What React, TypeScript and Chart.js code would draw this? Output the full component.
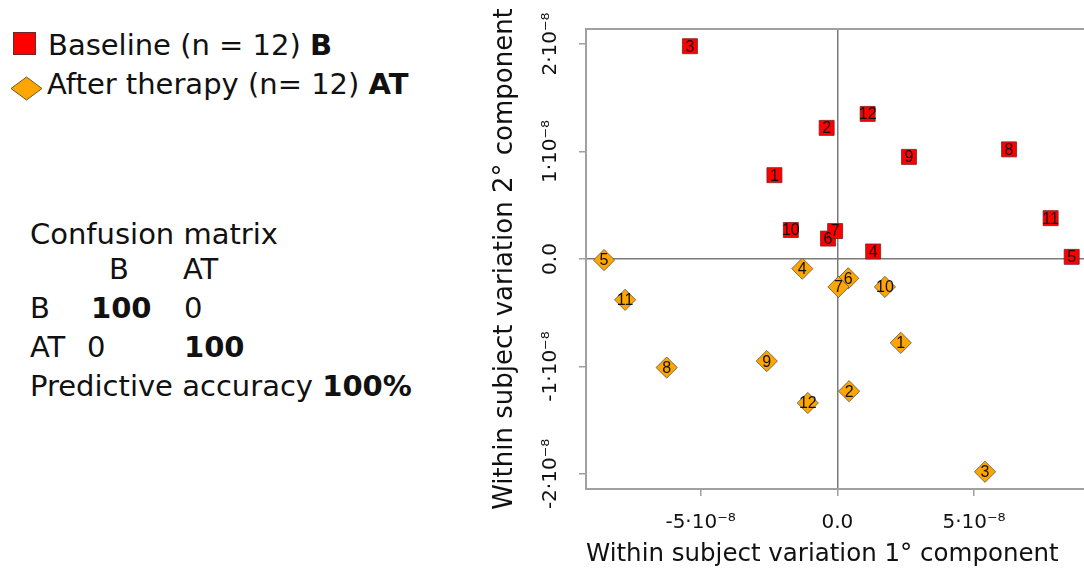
import React, { useEffect, useRef } from "react";
import { Chart, registerables } from "chart.js";

Chart.register(...registerables);

const POINT_LABELS = ["1", "2", "3", "4", "5", "6", "7", "8", "9", "10", "11", "12"];

const BASELINE_X = [-2.30e-8, -0.39e-8, -5.39e-8, 1.31e-8, 8.57e-8, -0.34e-8, -0.08e-8, 6.28e-8, 2.62e-8, -1.70e-8, 7.80e-8, 1.11e-8];
const BASELINE_Y = [0.78e-8, 1.22e-8, 1.98e-8, 0.07e-8, 0.02e-8, 0.19e-8, 0.26e-8, 1.02e-8, 0.95e-8, 0.27e-8, 0.38e-8, 1.35e-8];

const AFTER_X = [2.32e-8, 0.43e-8, 5.40e-8, -1.28e-8, -8.53e-8, 0.40e-8, 0.04e-8, -6.24e-8, -2.58e-8, 1.74e-8, -7.76e-8, -1.08e-8];
const AFTER_Y = [-0.78e-8, -1.23e-8, -1.98e-8, -0.09e-8, -0.01e-8, -0.18e-8, -0.26e-8, -1.01e-8, -0.95e-8, -0.26e-8, -0.38e-8, -1.34e-8];

const X_TICKS = [-5e-8, 0, 5e-8];
const X_TICK_LABELS = ["-5·10⁻⁸", "0.0", "5·10⁻⁸"];
const Y_TICKS = [-2e-8, -1e-8, 0, 1e-8, 2e-8];
const Y_TICK_LABELS = ["-2·10⁻⁸", "-1·10⁻⁸", "0.0", "1·10⁻⁸", "2·10⁻⁸"];

const X_MIN = -9.19e-8;
const X_MAX = 9.02e-8;
const Y_MIN = -2.14e-8;
const Y_MAX = 2.14e-8;

const X_TITLE = "Within subject variation 1° component";
const Y_TITLE = "Within subject variation 2° component";

const LEGEND_BASELINE = "Baseline (n = 12) ";
const LEGEND_BASELINE_CODE = "B";
const LEGEND_AFTER = "After therapy (n= 12) ";
const LEGEND_AFTER_CODE = "AT";

const RED = "#ff0000";
const ORANGE = "#ffa500";
const AXIS_GREY = "#a0a0a0";

const FONT = "'DejaVu Sans', Verdana, sans-serif";

const pointLabelPlugin = {
  id: "pointLabels",
  afterDatasetsDraw(chart: any) {
    const ctx = chart.ctx;
    ctx.save();
    ctx.font = "16px 'Liberation Sans', Arial, sans-serif";
    ctx.fillStyle = "#111";
    ctx.textAlign = "center";
    ctx.textBaseline = "middle";
    chart.data.datasets.forEach((_ds: any, di: number) => {
      const meta = chart.getDatasetMeta(di);
      meta.data.forEach((el: any, i: number) => {
        ctx.fillText(POINT_LABELS[i], el.x, el.y + 1);
      });
    });
    ctx.restore();
  },
};

const topBorderPlugin = {
  id: "topBorder",
  afterDraw(chart: any) {
    const { ctx, chartArea } = chart;
    ctx.save();
    ctx.strokeStyle = AXIS_GREY;
    ctx.lineWidth = 2;
    ctx.beginPath();
    ctx.moveTo(chartArea.left - 1, chartArea.top);
    ctx.lineTo(chartArea.right, chartArea.top);
    ctx.stroke();
    ctx.restore();
  },
};

function PlotChart() {
  const ref = useRef<HTMLCanvasElement | null>(null);
  useEffect(() => {
    if (!ref.current) return;
    const chart = new Chart(ref.current, {
      type: "scatter",
      data: {
        datasets: [
          {
            label: "Baseline",
            data: BASELINE_X.map((x, i) => ({ x, y: BASELINE_Y[i] })),
            pointStyle: "rect",
            pointRadius: 10.6,
            backgroundColor: RED,
            borderColor: "#7a2020",
            borderWidth: 0.8,
            clip: 12,
          },
          {
            label: "After therapy",
            data: AFTER_X.map((x, i) => ({ x, y: AFTER_Y[i] })),
            pointStyle: "rectRot",
            pointRadius: 10.6,
            backgroundColor: ORANGE,
            borderColor: "#555",
            borderWidth: 0.8,
            clip: 12,
          },
        ],
      },
      options: {
        responsive: false,
        animation: false,
        devicePixelRatio: 1,
        events: [],
        layout: { autoPadding: false, padding: { top: 29, right: 0, left: 0, bottom: 0 } },
        plugins: { legend: { display: false }, tooltip: { enabled: false } },
        scales: {
          x: {
            type: "linear",
            min: X_MIN,
            max: X_MAX,
            afterBuildTicks: (scale: any) => {
              scale.ticks = X_TICKS.map((v) => ({ value: v }));
            },
            afterFit: (scale: any) => {
              scale.height = 83;
              scale.paddingLeft = 0;
              scale.paddingRight = 0;
            },
            ticks: {
              callback: (_v: any, i: number) => X_TICK_LABELS[i],
              font: { family: FONT, size: 20 },
              color: "#111",
              padding: 15,
              maxRotation: 0,
              autoSkip: false,
            },
            grid: {
              color: (ctx: any) => (ctx.tick && ctx.tick.value === 0 ? "#7a7a7a" : "rgba(0,0,0,0)"),
              lineWidth: 1.5,
              tickColor: AXIS_GREY,
              tickLength: 7,
            },
            border: { display: true, color: AXIS_GREY, width: 2 },
            title: {
              display: true,
              text: X_TITLE,
              align: "start",
              font: { family: FONT, size: 24.5 },
              color: "#111",
              padding: { top: 0, bottom: 3 },
            },
          },
          y: {
            type: "linear",
            min: Y_MIN,
            max: Y_MAX,
            afterBuildTicks: (scale: any) => {
              scale.ticks = Y_TICKS.map((v) => ({ value: v }));
            },
            afterFit: (scale: any) => {
              scale.width = 96;
              scale.paddingTop = 0;
              scale.paddingBottom = 0;
            },
            ticks: {
              callback: (_v: any, i: number) => Y_TICK_LABELS[i],
              font: { family: FONT, size: 20 },
              color: "#111",
              padding: -7,
              minRotation: 90,
              maxRotation: 90,
              crossAlign: "center",
              autoSkip: false,
            },
            grid: {
              color: (ctx: any) => (ctx.tick && ctx.tick.value === 0 ? "#7a7a7a" : "rgba(0,0,0,0)"),
              lineWidth: 1.5,
              tickColor: AXIS_GREY,
              tickLength: 7,
            },
            border: { display: true, color: AXIS_GREY, width: 2 },
            title: {
              display: true,
              text: Y_TITLE,
              font: { family: FONT, size: 26 },
              color: "#111",
              padding: { top: 0, bottom: 0 },
            },
          },
        },
      },
      plugins: [pointLabelPlugin, topBorderPlugin],
    } as any);
    return () => chart.destroy();
  }, []);
  return (
    <canvas
      ref={ref}
      width={594}
      height={572}
      style={{ position: "absolute", left: 490, top: 0, width: 594, height: 572 }}
    />
  );
}

const textStyle = (left: number, capCenter: number, bold = false): React.CSSProperties => ({
  position: "absolute",
  left,
  top: capCenter - 17,
  fontFamily: FONT,
  fontSize: 29,
  lineHeight: "34px",
  fontWeight: bold ? "bold" : "normal",
  color: "#111",
  whiteSpace: "pre",
});

export default function App() {
  return (
    <div
      style={{
        position: "fixed",
        left: 0,
        top: 0,
        width: 1084,
        height: 572,
        background: "#fff",
        overflow: "hidden",
      }}
    >
      {/* legend */}
      <div
        style={{
          position: "absolute",
          left: 13,
          top: 32,
          width: 21,
          height: 21,
          background: RED,
          border: "1px solid #6a2a2a",
        }}
      />
      <svg style={{ position: "absolute", left: 10, top: 76 }} width={33} height={25}>
        <polygon points="1,12.5 16.5,1 32,12.5 16.5,24" fill={ORANGE} stroke="#6a5a2a" strokeWidth={1} />
      </svg>
      <div style={textStyle(48, 45)}>
        {LEGEND_BASELINE}
        <b>{LEGEND_BASELINE_CODE}</b>
      </div>
      <div style={textStyle(47, 84)}>
        {LEGEND_AFTER}
        <b>{LEGEND_AFTER_CODE}</b>
      </div>

      {/* confusion matrix */}
      <div style={textStyle(30, 234)}>Confusion matrix</div>
      <div style={textStyle(109, 269)}>B</div>
      <div style={textStyle(183, 269)}>AT</div>
      <div style={textStyle(30, 308)}>B</div>
      <div style={textStyle(91, 308, true)}>100</div>
      <div style={textStyle(184, 308)}>0</div>
      <div style={textStyle(30, 347)}>AT</div>
      <div style={textStyle(87, 347)}>0</div>
      <div style={textStyle(184, 347, true)}>100</div>
      <div style={textStyle(30, 386)}>
        Predictive accuracy <b>100%</b>
      </div>

      <PlotChart />
    </div>
  );
}
